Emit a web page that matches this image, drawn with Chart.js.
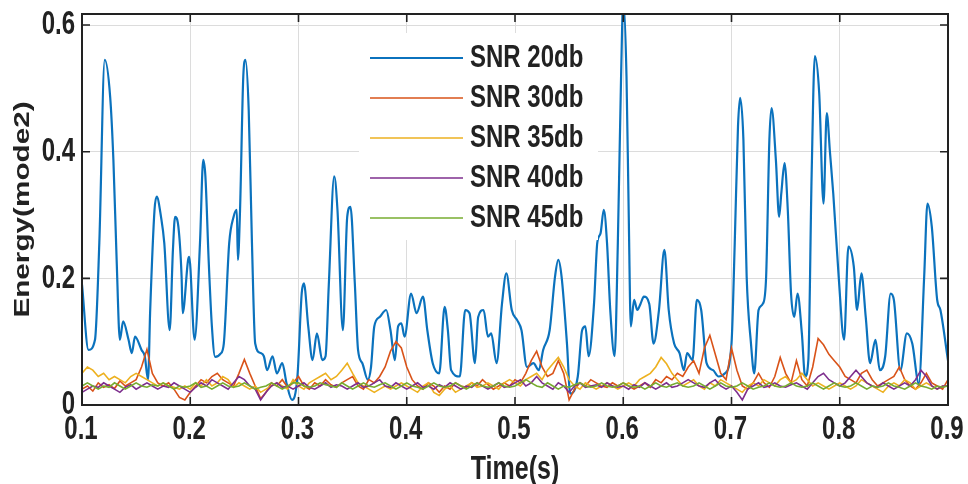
<!DOCTYPE html>
<html>
<head>
<meta charset="utf-8">
<script src="https://cdn.jsdelivr.net/npm/chart.js@4.4.1/dist/chart.umd.min.js"></script>
<style>
  html, body { margin: 0; padding: 0; background: #fff; }
  #wrap { width: 968px; height: 484px; }
</style>
</head>
<body>
<div id="wrap"><canvas id="energyChart"></canvas></div>
<script>
const seriesNames = ['SNR 20db', 'SNR 30db', 'SNR 35db', 'SNR 40db', 'SNR 45db'];
const seriesColors = ['#0b72bd', '#d95319', '#edb120', '#7e2f8e', '#77ac30'];
const xTicks = [0.1, 0.2, 0.3, 0.4, 0.5, 0.6, 0.7, 0.8, 0.9];
const yTicks = [0, 0.2, 0.4, 0.6];

// SNR 20db: vertices of the trace (time in s, energy)
const times20 = [
  0.100, 0.106, 0.112, 0.116, 0.121, 0.126, 0.129, 0.132, 0.135, 0.138,
  0.143, 0.146, 0.149, 0.155, 0.158, 0.161, 0.163, 0.167, 0.169, 0.173,
  0.176, 0.181, 0.184, 0.186, 0.189, 0.192, 0.193, 0.198, 0.199, 0.204,
  0.209, 0.212, 0.214, 0.217, 0.220, 0.223, 0.228, 0.231, 0.236, 0.240,
  0.243, 0.244, 0.246, 0.249, 0.251, 0.254, 0.257, 0.260, 0.265, 0.268,
  0.271, 0.276, 0.280, 0.285, 0.289, 0.294, 0.299, 0.303, 0.305, 0.309,
  0.313, 0.317, 0.322, 0.325, 0.328, 0.333, 0.336, 0.341, 0.345, 0.348,
  0.352, 0.355, 0.359, 0.364, 0.367, 0.370, 0.375, 0.381, 0.385, 0.389,
  0.392, 0.395, 0.398, 0.404, 0.409, 0.415, 0.419, 0.424, 0.430, 0.435,
  0.438, 0.441, 0.449, 0.454, 0.458, 0.463, 0.466, 0.471, 0.475, 0.478,
  0.483, 0.488, 0.492, 0.497, 0.502, 0.506, 0.511, 0.517, 0.522, 0.526,
  0.532, 0.537, 0.540, 0.543, 0.548, 0.551, 0.558, 0.562, 0.565, 0.568,
  0.573, 0.576, 0.579, 0.582, 0.585, 0.588, 0.592, 0.595, 0.598, 0.600,
  0.603, 0.605, 0.607, 0.610, 0.613, 0.616, 0.619, 0.624, 0.628, 0.633,
  0.638, 0.642, 0.647, 0.652, 0.656, 0.659, 0.664, 0.668, 0.672, 0.677,
  0.683, 0.688, 0.694, 0.700, 0.703, 0.706, 0.708, 0.711, 0.714, 0.718,
  0.721, 0.725, 0.729, 0.732, 0.735, 0.737, 0.741, 0.744, 0.746, 0.749,
  0.752, 0.755, 0.758, 0.761, 0.765, 0.768, 0.771, 0.774, 0.777, 0.781,
  0.785, 0.788, 0.791, 0.794, 0.799, 0.804, 0.808, 0.813, 0.816, 0.820,
  0.824, 0.828, 0.833, 0.837, 0.842, 0.847, 0.850, 0.856, 0.862, 0.867,
  0.873, 0.878, 0.881, 0.885, 0.890, 0.893, 0.900
];
const snr20 = [
  0.190, 0.087, 0.103, 0.256, 0.545, 0.487, 0.387, 0.229, 0.103, 0.132,
  0.103, 0.082, 0.108, 0.087, 0.077, 0.040, 0.150, 0.308, 0.329, 0.297,
  0.256, 0.118, 0.245, 0.297, 0.282, 0.203, 0.145, 0.229, 0.234, 0.103,
  0.256, 0.387, 0.361, 0.229, 0.124, 0.076, 0.081, 0.097, 0.256, 0.297,
  0.308, 0.229, 0.308, 0.519, 0.545, 0.466, 0.256, 0.097, 0.082, 0.077,
  0.055, 0.077, 0.050, 0.066, 0.034, 0.008, 0.045, 0.177, 0.192, 0.124,
  0.071, 0.113, 0.071, 0.077, 0.190, 0.361, 0.308, 0.118, 0.297, 0.313,
  0.193, 0.087, 0.066, 0.040, 0.060, 0.124, 0.139, 0.150, 0.118, 0.071,
  0.124, 0.129, 0.108, 0.176, 0.145, 0.171, 0.118, 0.066, 0.050, 0.155,
  0.118, 0.055, 0.045, 0.150, 0.145, 0.066, 0.139, 0.150, 0.108, 0.113,
  0.066, 0.160, 0.208, 0.150, 0.134, 0.118, 0.060, 0.066, 0.055, 0.087,
  0.118, 0.203, 0.229, 0.203, 0.097, 0.018, 0.045, 0.118, 0.124, 0.077,
  0.160, 0.256, 0.271, 0.308, 0.256, 0.150, 0.077, 0.256, 0.519, 0.640,
  0.519, 0.308, 0.124, 0.166, 0.150, 0.160, 0.171, 0.160, 0.097, 0.150,
  0.245, 0.150, 0.097, 0.082, 0.055, 0.082, 0.071, 0.166, 0.150, 0.066,
  0.055, 0.045, 0.050, 0.097, 0.256, 0.440, 0.485, 0.419, 0.203, 0.097,
  0.050, 0.150, 0.160, 0.203, 0.419, 0.469, 0.387, 0.297, 0.334, 0.382,
  0.308, 0.176, 0.139, 0.176, 0.113, 0.045, 0.071, 0.361, 0.551, 0.493,
  0.318, 0.461, 0.398, 0.334, 0.203, 0.103, 0.250, 0.218, 0.150, 0.208,
  0.139, 0.066, 0.103, 0.055, 0.077, 0.176, 0.166, 0.055, 0.113, 0.097,
  0.034, 0.203, 0.318, 0.282, 0.166, 0.150, 0.070
];

// lower-SNR traces, sampled every 5 ms from 0.1 s to 0.9 s
const tNoise = Array.from({ length: 161 }, (_, i) => +(0.1 + i * 0.005).toFixed(3));
const snr30 = [
  0.025, 0.030, 0.022, 0.035, 0.028, 0.032, 0.026, 0.038, 0.030, 0.035, 0.040, 0.060, 0.088, 0.050, 0.035, 0.030, 0.035, 0.025, 0.012, 0.008,
  0.020, 0.030, 0.040, 0.035, 0.045, 0.050, 0.040, 0.035, 0.030, 0.050, 0.072, 0.050, 0.030, 0.010, 0.020, 0.035, 0.030, 0.040, 0.028, 0.035,
  0.045, 0.030, 0.025, 0.035, 0.030, 0.040, 0.032, 0.028, 0.035, 0.040, 0.045, 0.030, 0.025, 0.040, 0.035, 0.045, 0.060, 0.085, 0.100, 0.090,
  0.060, 0.040, 0.030, 0.025, 0.035, 0.030, 0.020, 0.030, 0.025, 0.035, 0.030, 0.028, 0.035, 0.030, 0.040, 0.032, 0.025, 0.030, 0.035, 0.030,
  0.040, 0.035, 0.050, 0.070, 0.085, 0.060, 0.045, 0.050, 0.070, 0.050, 0.008, 0.025, 0.035, 0.030, 0.040, 0.035, 0.030, 0.028, 0.035, 0.030,
  0.035, 0.030, 0.025, 0.030, 0.035, 0.028, 0.040, 0.035, 0.045, 0.040, 0.050, 0.045, 0.060, 0.070, 0.050, 0.090, 0.110, 0.080, 0.050, 0.040,
  0.090, 0.055, 0.030, 0.025, 0.035, 0.050, 0.035, 0.028, 0.045, 0.075, 0.050, 0.035, 0.070, 0.040, 0.030, 0.060, 0.105, 0.095, 0.080, 0.070,
  0.060, 0.045, 0.040, 0.035, 0.050, 0.055, 0.040, 0.030, 0.035, 0.040, 0.045, 0.060, 0.040, 0.030, 0.025, 0.035, 0.050, 0.035, 0.030, 0.025,
  0.040
];
const snr35 = [
  0.050, 0.060, 0.055, 0.045, 0.050, 0.040, 0.045, 0.040, 0.035, 0.045, 0.050, 0.045, 0.040, 0.035, 0.030, 0.035, 0.030, 0.028, 0.025, 0.030,
  0.025, 0.035, 0.030, 0.040, 0.030, 0.035, 0.045, 0.040, 0.028, 0.035, 0.030, 0.025, 0.030, 0.020, 0.025, 0.030, 0.035, 0.030, 0.025, 0.040,
  0.030, 0.025, 0.035, 0.040, 0.045, 0.050, 0.040, 0.045, 0.055, 0.066, 0.050, 0.035, 0.030, 0.025, 0.020, 0.025, 0.030, 0.025, 0.030, 0.035,
  0.030, 0.025, 0.020, 0.030, 0.035, 0.020, 0.015, 0.025, 0.030, 0.020, 0.025, 0.030, 0.035, 0.028, 0.030, 0.035, 0.030, 0.025, 0.035, 0.040,
  0.035, 0.030, 0.040, 0.045, 0.050, 0.040, 0.055, 0.065, 0.075, 0.060, 0.040, 0.030, 0.025, 0.035, 0.030, 0.025, 0.030, 0.035, 0.030, 0.025,
  0.030, 0.035, 0.030, 0.040, 0.045, 0.050, 0.060, 0.075, 0.065, 0.050, 0.040, 0.030, 0.035, 0.040, 0.030, 0.025, 0.035, 0.030, 0.040, 0.035,
  0.030, 0.025, 0.020, 0.030, 0.035, 0.030, 0.040, 0.035, 0.030, 0.040, 0.045, 0.035, 0.040, 0.050, 0.040, 0.030, 0.035, 0.030, 0.025, 0.030,
  0.035, 0.030, 0.025, 0.030, 0.040, 0.035, 0.030, 0.025, 0.020, 0.030, 0.035, 0.030, 0.040, 0.035, 0.025, 0.030, 0.035, 0.030, 0.025, 0.030,
  0.030
];
const snr40 = [
  0.020, 0.025, 0.030, 0.028, 0.035, 0.030, 0.025, 0.020, 0.028, 0.032, 0.025, 0.030, 0.035, 0.030, 0.025, 0.030, 0.028, 0.035, 0.030, 0.025,
  0.020, 0.028, 0.035, 0.030, 0.040, 0.035, 0.030, 0.025, 0.035, 0.045, 0.040, 0.030, 0.025, 0.008, 0.020, 0.030, 0.035, 0.028, 0.030, 0.025,
  0.030, 0.035, 0.028, 0.025, 0.030, 0.035, 0.028, 0.032, 0.030, 0.025, 0.030, 0.035, 0.028, 0.030, 0.035, 0.040, 0.030, 0.028, 0.035, 0.030,
  0.025, 0.030, 0.035, 0.028, 0.030, 0.025, 0.032, 0.028, 0.035, 0.030, 0.025, 0.030, 0.028, 0.035, 0.030, 0.025, 0.030, 0.035, 0.028, 0.030,
  0.035, 0.040, 0.030, 0.035, 0.045, 0.035, 0.030, 0.025, 0.035, 0.030, 0.020, 0.030, 0.035, 0.028, 0.030, 0.032, 0.028, 0.035, 0.030, 0.028,
  0.030, 0.025, 0.032, 0.028, 0.035, 0.030, 0.025, 0.030, 0.035, 0.028, 0.030, 0.035, 0.040, 0.035, 0.030, 0.028, 0.035, 0.040, 0.030, 0.025,
  0.030, 0.020, 0.008, 0.025, 0.030, 0.035, 0.028, 0.030, 0.035, 0.030, 0.028, 0.032, 0.035, 0.030, 0.025, 0.035, 0.045, 0.050, 0.040, 0.035,
  0.030, 0.035, 0.045, 0.055, 0.045, 0.035, 0.030, 0.028, 0.035, 0.030, 0.025, 0.030, 0.035, 0.030, 0.040, 0.055, 0.045, 0.030, 0.025, 0.030,
  0.030
];
const snr45 = [
  0.030, 0.035, 0.030, 0.025, 0.030, 0.028, 0.035, 0.030, 0.025, 0.030, 0.035, 0.030, 0.028, 0.032, 0.030, 0.035, 0.030, 0.025, 0.030, 0.028,
  0.030, 0.035, 0.028, 0.030, 0.025, 0.030, 0.035, 0.030, 0.028, 0.030, 0.035, 0.030, 0.025, 0.028, 0.030, 0.035, 0.030, 0.025, 0.030, 0.035,
  0.035, 0.030, 0.028, 0.030, 0.035, 0.032, 0.030, 0.028, 0.035, 0.030, 0.025, 0.030, 0.035, 0.030, 0.028, 0.032, 0.035, 0.030, 0.025, 0.030,
  0.035, 0.030, 0.028, 0.025, 0.030, 0.035, 0.030, 0.028, 0.030, 0.035, 0.030, 0.025, 0.030, 0.035, 0.030, 0.028, 0.030, 0.035, 0.030, 0.028,
  0.030, 0.035, 0.040, 0.035, 0.030, 0.028, 0.035, 0.030, 0.025, 0.030, 0.028, 0.032, 0.035, 0.030, 0.028, 0.030, 0.035, 0.030, 0.028, 0.030,
  0.035, 0.030, 0.028, 0.030, 0.025, 0.030, 0.035, 0.030, 0.028, 0.032, 0.035, 0.030, 0.028, 0.030, 0.035, 0.030, 0.025, 0.030, 0.035, 0.030,
  0.028, 0.030, 0.035, 0.030, 0.025, 0.028, 0.030, 0.035, 0.030, 0.028, 0.030, 0.035, 0.030, 0.028, 0.030, 0.035, 0.030, 0.025, 0.030, 0.035,
  0.030, 0.028, 0.030, 0.035, 0.030, 0.025, 0.030, 0.028, 0.030, 0.035, 0.030, 0.028, 0.025, 0.030, 0.035, 0.030, 0.028, 0.025, 0.030, 0.028,
  0.030
];

const FONT = '"Liberation Sans", Arial, Helvetica, sans-serif';
const INK = '#222';

function pairs(ts, vs) {
  return ts.map((t, i) => ({ x: t, y: vs[i] }));
}

// text in this figure is drawn taller than it is wide
function tallText(ctx, text, x, y, size, align, sy) {
  ctx.save();
  ctx.translate(x, y);
  ctx.scale(1, sy);
  ctx.font = 'bold ' + size + 'px ' + FONT;
  ctx.fillStyle = INK;
  ctx.textAlign = align;
  ctx.textBaseline = 'middle';
  ctx.fillText(text, 0, 0);
  ctx.restore();
}

// MATLAB-like box, inward ticks, tick labels and axis titles
const axesFrame = {
  id: 'axesFrame',
  afterDraw(chart) {
    const ctx = chart.ctx;
    const a = chart.chartArea;
    const xs = chart.scales.x, ys = chart.scales.y;
    const tl = 8;

    ctx.save();
    ctx.strokeStyle = INK;
    ctx.lineWidth = 1.6;
    ctx.beginPath();
    xs.ticks.forEach(t => {
      const px = xs.getPixelForValue(t.value);
      ctx.moveTo(px, a.bottom); ctx.lineTo(px, a.bottom - tl);
      ctx.moveTo(px, a.top); ctx.lineTo(px, a.top + tl);
    });
    ys.ticks.forEach(t => {
      const py = ys.getPixelForValue(t.value);
      ctx.moveTo(a.left, py); ctx.lineTo(a.left + tl, py);
      ctx.moveTo(a.right, py); ctx.lineTo(a.right - tl, py);
    });
    ctx.stroke();
    ctx.lineWidth = 2;
    ctx.strokeRect(a.left, a.top, a.right - a.left, a.bottom - a.top);
    ctx.restore();

    xs.ticks.forEach(t => {
      tallText(ctx, String(+t.value.toFixed(1)), xs.getPixelForValue(t.value) - 1, 430, 24, 'center', 1.4);
    });
    ys.ticks.forEach(t => {
      tallText(ctx, String(+t.value.toFixed(1)), 75, ys.getPixelForValue(t.value), 24, 'right', 1.4);
    });

    tallText(ctx, 'Time(s)', (a.left + a.right) / 2, 470, 25, 'center', 1.3);

    ctx.save();
    ctx.translate(23, (a.top + a.bottom) / 2);
    ctx.rotate(-Math.PI / 2);
    ctx.scale(1.35, 1);
    ctx.font = 'bold 22px ' + FONT;
    ctx.fillStyle = INK;
    ctx.textAlign = 'center';
    ctx.textBaseline = 'middle';
    ctx.fillText('Energy(mode2)', 0, 0);
    ctx.restore();
  }
};

// legend block inside the axes, white background, no frame
const boxLegend = {
  id: 'boxLegend',
  afterDatasetsDraw(chart) {
    const ctx = chart.ctx;
    ctx.save();
    ctx.fillStyle = '#fff';
    ctx.fillRect(359, 33, 239, 207);
    chart.data.datasets.forEach((ds, i) => {
      const y = 58 + i * 40;
      ctx.strokeStyle = ds.borderColor;
      ctx.lineWidth = i === 0 ? 2.2 : 1.6;
      ctx.beginPath();
      ctx.moveTo(370, y);
      ctx.lineTo(463, y);
      ctx.stroke();
      tallText(ctx, ds.label, 470, y, 24, 'left', 1.3);
    });
    ctx.restore();
  }
};

const series = [
  pairs(times20, snr20),
  pairs(tNoise, snr30),
  pairs(tNoise, snr35),
  pairs(tNoise, snr40),
  pairs(tNoise, snr45)
];

new Chart(document.getElementById('energyChart'), {
  type: 'line',
  data: {
    datasets: series.map((d, i) => ({
      label: seriesNames[i],
      data: d,
      borderColor: seriesColors[i],
      borderWidth: i === 0 ? 2.2 : 1.6,
      pointRadius: 0,
      // the dense SNR 20db trace is smoothed, the others keep their jagged steps
      cubicInterpolationMode: i === 0 ? 'monotone' : 'default',
      tension: 0,
      order: 5 - i
    }))
  },
  options: {
    responsive: true,
    maintainAspectRatio: false,
    animation: false,
    layout: { padding: { left: 82, right: 20, top: 14, bottom: 79 } },
    plugins: { legend: { display: false }, tooltip: { enabled: false } },
    scales: {
      x: {
        type: 'linear',
        min: 0.1,
        max: 0.9,
        afterBuildTicks: s => { s.ticks = xTicks.map(v => ({ value: v })); },
        ticks: { display: false },
        grid: { color: '#dcdcdc', lineWidth: 1, drawTicks: false },
        border: { display: false }
      },
      y: {
        type: 'linear',
        min: 0,
        max: 0.6174,
        afterBuildTicks: s => { s.ticks = yTicks.map(v => ({ value: v })); },
        ticks: { display: false },
        grid: { color: '#dcdcdc', lineWidth: 1, drawTicks: false },
        border: { display: false }
      }
    }
  },
  plugins: [boxLegend, axesFrame]
});
</script>
</body>
</html>
